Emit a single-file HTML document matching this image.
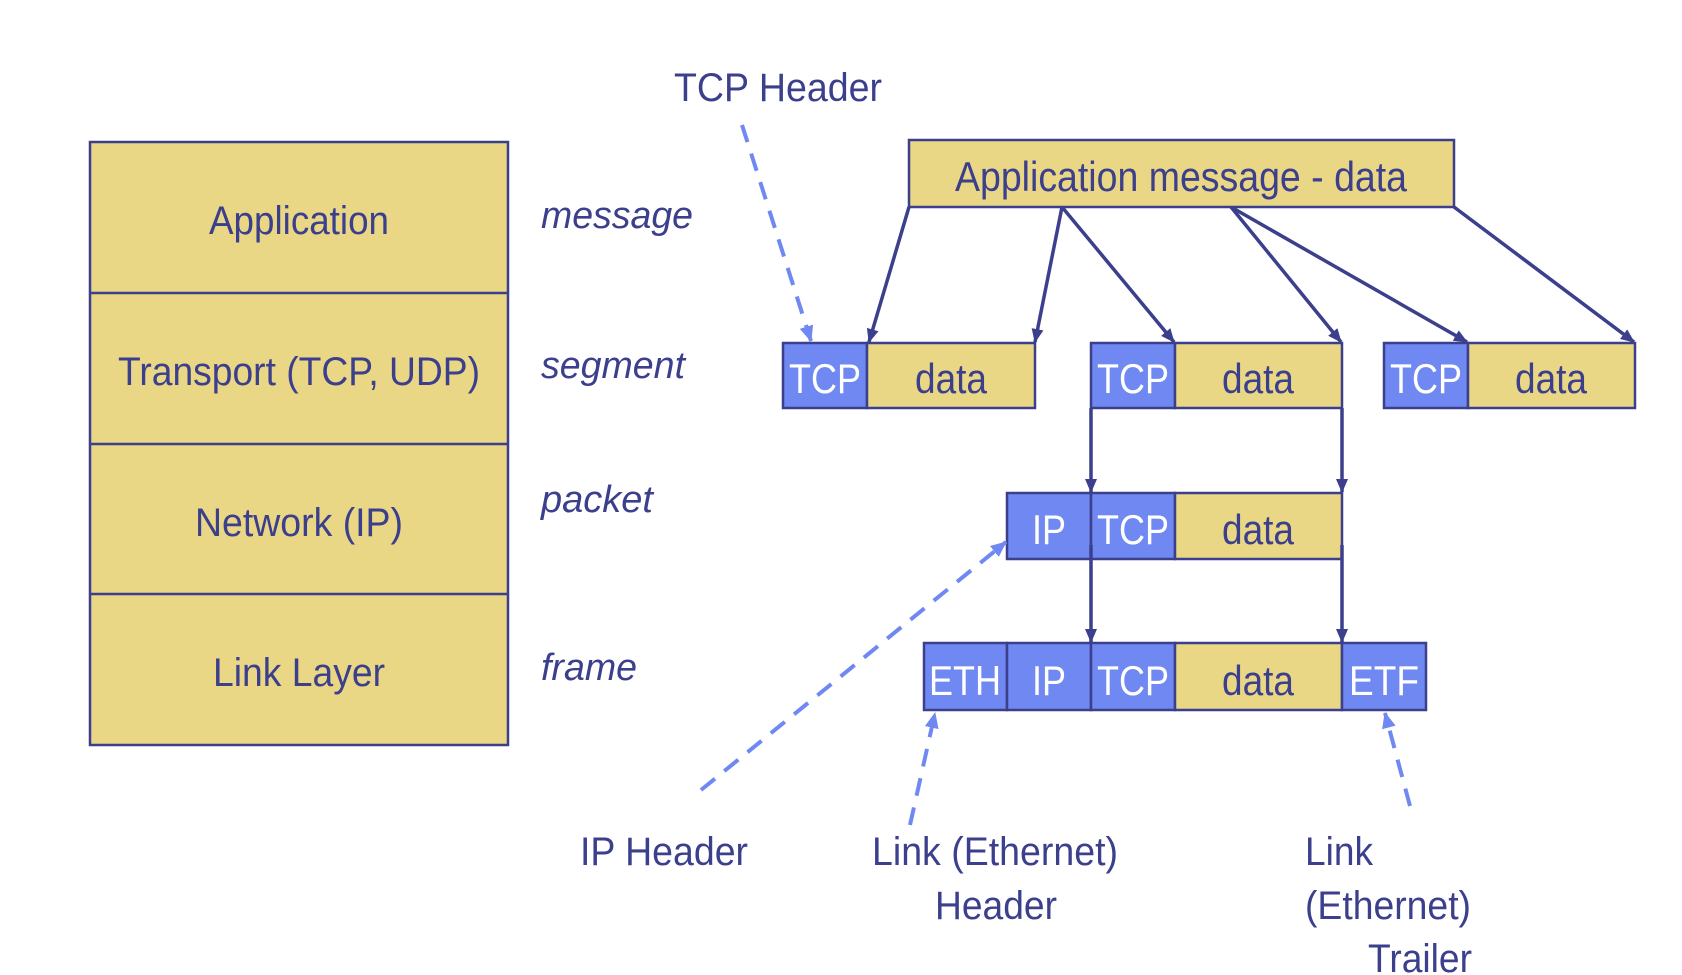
<!DOCTYPE html>
<html><head><meta charset="utf-8"><style>
html,body{margin:0;padding:0;background:#fff;}
svg{display:block;}
text{font-family:"Liberation Sans",sans-serif;fill:#3B3F8C;}
.w{fill:#fff;}
</style></head><body>
<svg width="1682" height="975" viewBox="0 0 1682 975" xmlns="http://www.w3.org/2000/svg">
<defs>
<marker id="a" markerWidth="14" markerHeight="14" refX="13" refY="7" orient="auto" markerUnits="userSpaceOnUse"><path d="M0,1 L14,7 L0,13 z" fill="#3B3F8C"/></marker>
<marker id="b" markerWidth="16" markerHeight="16" refX="15" refY="8" orient="auto" markerUnits="userSpaceOnUse"><path d="M0,1 L16,8 L0,15 z" fill="#6F88F2"/></marker>
</defs>
<g stroke="#3B3F8C" stroke-width="2.5">
<rect x="90" y="142" width="418" height="603" fill="#EAD785"/>
<line x1="90" y1="293" x2="508" y2="293"/>
<line x1="90" y1="444" x2="508" y2="444"/>
<line x1="90" y1="594" x2="508" y2="594"/>
</g>
<g font-size="40" text-anchor="middle">
<text x="299" y="234" textLength="180" lengthAdjust="spacingAndGlyphs">Application</text>
<text x="299" y="385" textLength="362" lengthAdjust="spacingAndGlyphs">Transport (TCP, UDP)</text>
<text x="299" y="536" textLength="208" lengthAdjust="spacingAndGlyphs">Network (IP)</text>
<text x="299" y="686" textLength="172" lengthAdjust="spacingAndGlyphs">Link Layer</text>
</g>
<g font-size="38" font-style="italic">
<text x="541" y="228" textLength="152" lengthAdjust="spacingAndGlyphs">message</text>
<text x="541" y="378" textLength="144" lengthAdjust="spacingAndGlyphs">segment</text>
<text x="541" y="512" textLength="112" lengthAdjust="spacingAndGlyphs">packet</text>
<text x="541" y="680" textLength="96" lengthAdjust="spacingAndGlyphs">frame</text>
</g>
<g transform="translate(-4,-2)">
<text x="678" y="103" font-size="40" textLength="208" lengthAdjust="spacingAndGlyphs">TCP Header</text>
<g stroke="#3B3F8C" stroke-width="2.5">
<rect x="913" y="142" width="545" height="67" fill="#EAD785"/>
<rect x="787" y="345" width="84" height="65" fill="#6F88F2"/><rect x="871" y="345" width="168" height="65" fill="#EAD785"/>
<rect x="1095" y="345" width="84" height="65" fill="#6F88F2"/><rect x="1179" y="345" width="167" height="65" fill="#EAD785"/>
<rect x="1388" y="345" width="84" height="65" fill="#6F88F2"/><rect x="1472" y="345" width="167" height="65" fill="#EAD785"/>
<rect x="1011" y="495" width="84" height="66" fill="#6F88F2"/><rect x="1095" y="495" width="84" height="66" fill="#6F88F2"/><rect x="1179" y="495" width="167" height="66" fill="#EAD785"/>
<rect x="928" y="645" width="83" height="67" fill="#6F88F2"/><rect x="1011" y="645" width="84" height="67" fill="#6F88F2"/><rect x="1095" y="645" width="84" height="67" fill="#6F88F2"/><rect x="1179" y="645" width="167" height="67" fill="#EAD785"/><rect x="1346" y="645" width="84" height="67" fill="#6F88F2"/>
</g>
<text x="1185" y="193" font-size="42" text-anchor="middle" textLength="452" lengthAdjust="spacingAndGlyphs">Application message - data</text>
<g font-size="42" text-anchor="middle">
<text class="w" x="829" y="395" textLength="72" lengthAdjust="spacingAndGlyphs">TCP</text><text x="955" y="395" textLength="72" lengthAdjust="spacingAndGlyphs">data</text>
<text class="w" x="1137" y="395" textLength="72" lengthAdjust="spacingAndGlyphs">TCP</text><text x="1262" y="395" textLength="72" lengthAdjust="spacingAndGlyphs">data</text>
<text class="w" x="1430" y="395" textLength="72" lengthAdjust="spacingAndGlyphs">TCP</text><text x="1555" y="395" textLength="72" lengthAdjust="spacingAndGlyphs">data</text>
<text class="w" x="1053" y="546" textLength="34" lengthAdjust="spacingAndGlyphs">IP</text><text class="w" x="1137" y="546" textLength="72" lengthAdjust="spacingAndGlyphs">TCP</text><text x="1262" y="546" textLength="72" lengthAdjust="spacingAndGlyphs">data</text>
<text class="w" x="969" y="697" textLength="72" lengthAdjust="spacingAndGlyphs">ETH</text><text class="w" x="1053" y="697" textLength="34" lengthAdjust="spacingAndGlyphs">IP</text><text class="w" x="1137" y="697" textLength="72" lengthAdjust="spacingAndGlyphs">TCP</text><text x="1262" y="697" textLength="72" lengthAdjust="spacingAndGlyphs">data</text><text class="w" x="1388" y="697" textLength="70" lengthAdjust="spacingAndGlyphs">ETF</text>
</g>
<g stroke="#3B3F8C" stroke-width="3.5" marker-end="url(#a)">
<line x1="913" y1="209" x2="873" y2="344"/>
<line x1="1066" y1="209" x2="1039" y2="344"/>
<line x1="1066" y1="209" x2="1178" y2="344"/>
<line x1="1235" y1="209" x2="1345" y2="344"/>
<line x1="1235" y1="209" x2="1471" y2="344"/>
<line x1="1458" y1="209" x2="1638" y2="344"/>
<line x1="1095" y1="410" x2="1095" y2="494"/>
<line x1="1346" y1="410" x2="1346" y2="494"/>
<line x1="1095" y1="547" x2="1095" y2="644"/>
<line x1="1346" y1="547" x2="1346" y2="644"/>
</g>
<g stroke="#6F88F2" stroke-width="4" stroke-dasharray="18,12" fill="none" marker-end="url(#b)">
<line x1="746" y1="127" x2="815" y2="343"/>
<line x1="705" y1="792" x2="1010" y2="544"/>
<line x1="914" y1="827" x2="939" y2="715"/>
<line x1="1414" y1="808" x2="1389" y2="715"/>
</g>
<g font-size="40">
<text x="584" y="867" textLength="168" lengthAdjust="spacingAndGlyphs">IP Header</text>
<text x="876" y="867" textLength="246" lengthAdjust="spacingAndGlyphs">Link (Ethernet)</text>
<text x="939" y="921" textLength="122" lengthAdjust="spacingAndGlyphs">Header</text>
<text x="1309" y="867" textLength="68" lengthAdjust="spacingAndGlyphs">Link</text>
<text x="1309" y="921" textLength="166" lengthAdjust="spacingAndGlyphs">(Ethernet)</text>
<text x="1372" y="974" textLength="104" lengthAdjust="spacingAndGlyphs">Trailer</text>
</g>
</g>
</svg>
</body></html>
